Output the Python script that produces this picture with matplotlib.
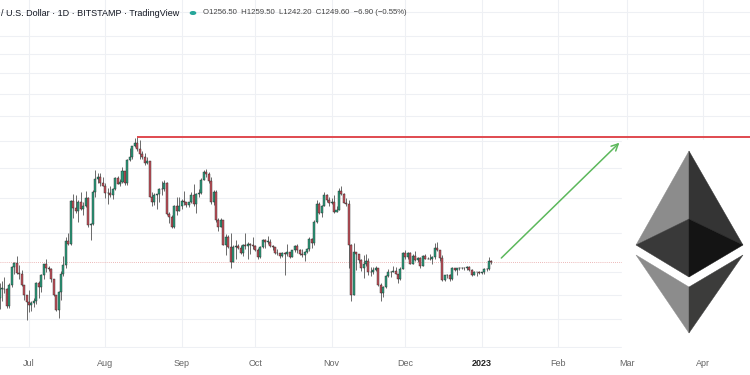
import matplotlib
matplotlib.use("Agg")
import matplotlib.pyplot as plt
import matplotlib.dates as mdates
import matplotlib.patches as mpatches
import numpy as np
import pandas as pd

plt.rcParams["font.family"] = ["Liberation Sans", "DejaVu Sans"]

# ---------------------------------------------------------------------------
# Data: ETH/USD daily candles, 2022-06-19 .. 2023-01-05
# ---------------------------------------------------------------------------
first_open = 1086

close_jun = [1127, 1127, 1125, 1052, 1145, 1225, 1243, 1199, 1193, 1143, 1098, 1069]
high_jun = [1150, 1160, 1180, 1130, 1150, 1232, 1250, 1280, 1235, 1210, 1145, 1100]
low_jun = [1040, 1075, 1110, 1045, 1046, 1135, 1192, 1195, 1170, 1140, 1080, 998]

close_jul = [1059, 1067, 1075, 1150, 1134, 1187, 1238, 1219, 1218, 1168, 1098, 1039,
             1113, 1192, 1234, 1356, 1339, 1581, 1543, 1521, 1577, 1537, 1551, 1601,
             1441, 1450, 1637, 1726, 1738, 1696, 1680]
high_jul = [1120, 1075, 1085, 1155, 1163, 1193, 1240, 1265, 1230, 1220, 1170, 1100,
            1118, 1208, 1280, 1375, 1400, 1590, 1625, 1620, 1590, 1640, 1580, 1645,
            1605, 1455, 1650, 1785, 1765, 1765, 1735]
low_jul = [1030, 1035, 1050, 1060, 1085, 1112, 1170, 1200, 1205, 1155, 1095, 1035,
           1006, 1078, 1185, 1220, 1335, 1335, 1480, 1510, 1460, 1530, 1500, 1545,
           1430, 1360, 1440, 1610, 1695, 1680, 1675]

close_aug = [1633, 1634, 1618, 1660, 1731, 1692, 1702, 1777, 1700, 1853, 1880, 1958,
             1982, 1937, 1902, 1877, 1834, 1849, 1611, 1576, 1620, 1626, 1662, 1658,
             1696, 1507, 1490, 1432, 1552, 1525, 1554]
high_aug = [1695, 1665, 1680, 1665, 1738, 1745, 1725, 1810, 1782, 1860, 1942, 1960,
            2020, 2030, 2010, 1925, 1905, 1880, 1850, 1640, 1635, 1630, 1667, 1710,
            1720, 1705, 1520, 1500, 1560, 1605, 1610]
low_aug = [1600, 1565, 1610, 1595, 1655, 1690, 1675, 1700, 1683, 1685, 1850, 1860,
           1950, 1925, 1865, 1860, 1820, 1830, 1605, 1555, 1560, 1533, 1575, 1620,
           1645, 1500, 1455, 1428, 1425, 1500, 1525]

close_sep = [1586, 1577, 1556, 1577, 1618, 1562, 1630, 1636, 1720, 1775, 1761, 1714,
             1575, 1637, 1472, 1432, 1471, 1336, 1378, 1325, 1252, 1327, 1328, 1318,
             1295, 1336, 1330, 1338, 1336, 1328]
high_sep = [1595, 1645, 1580, 1580, 1640, 1690, 1635, 1660, 1730, 1785, 1790, 1770,
            1735, 1650, 1650, 1485, 1485, 1472, 1395, 1390, 1400, 1335, 1360, 1340,
            1335, 1340, 1400, 1350, 1345, 1375]
low_sep = [1535, 1560, 1545, 1546, 1570, 1555, 1510, 1605, 1630, 1715, 1735, 1700,
           1565, 1560, 1460, 1410, 1430, 1333, 1284, 1320, 1220, 1250, 1265, 1315,
           1290, 1280, 1316, 1265, 1290, 1315]

close_oct = [1311, 1276, 1324, 1362, 1352, 1352, 1331, 1322, 1294, 1292, 1280, 1295,
             1289, 1297, 1275, 1307, 1332, 1311, 1287, 1283, 1300, 1315, 1364, 1345,
             1460, 1566, 1514, 1555, 1618, 1590, 1573]
high_oct = [1333, 1318, 1330, 1365, 1364, 1380, 1365, 1335, 1326, 1313, 1292, 1300,
            1300, 1340, 1299, 1310, 1335, 1340, 1313, 1315, 1304, 1317, 1375, 1370,
            1470, 1590, 1580, 1560, 1640, 1625, 1605]
low_oct = [1305, 1265, 1270, 1318, 1321, 1341, 1323, 1310, 1290, 1282, 1270, 1275,
           1190, 1280, 1270, 1273, 1300, 1295, 1283, 1272, 1255, 1292, 1305, 1320,
           1335, 1455, 1506, 1490, 1550, 1580, 1550]

close_nov = [1579, 1519, 1531, 1646, 1627, 1572, 1568, 1334, 1100, 1299, 1287, 1257,
             1222, 1241, 1253, 1201, 1202, 1212, 1219, 1141, 1109, 1136, 1184, 1204,
             1202, 1206, 1195, 1170, 1217, 1296]
high_nov = [1600, 1620, 1550, 1668, 1675, 1635, 1600, 1588, 1340, 1345, 1300, 1290,
            1265, 1286, 1290, 1270, 1225, 1225, 1230, 1222, 1150, 1138, 1190, 1215,
            1205, 1230, 1224, 1195, 1225, 1300]
low_nov = [1565, 1510, 1515, 1530, 1622, 1570, 1550, 1220, 1073, 1100, 1210, 1245,
           1205, 1173, 1230, 1190, 1184, 1195, 1205, 1138, 1075, 1090, 1130, 1180,
           1178, 1200, 1192, 1154, 1165, 1215]

close_dec = [1276, 1294, 1242, 1280, 1259, 1270, 1232, 1281, 1265, 1266, 1263, 1275,
             1320, 1308, 1267, 1167, 1186, 1188, 1168, 1219, 1212, 1219, 1219, 1221,
             1219, 1227, 1212, 1190, 1201, 1200, 1196]
high_dec = [1310, 1298, 1300, 1287, 1303, 1275, 1272, 1285, 1287, 1276, 1290, 1280,
            1345, 1350, 1310, 1285, 1190, 1195, 1195, 1225, 1220, 1220, 1225, 1225,
            1225, 1228, 1230, 1215, 1205, 1202, 1205]
low_dec = [1265, 1262, 1240, 1239, 1255, 1248, 1220, 1228, 1262, 1262, 1258, 1240,
           1265, 1305, 1255, 1160, 1162, 1175, 1160, 1165, 1205, 1190, 1212, 1215,
           1210, 1213, 1205, 1185, 1188, 1183, 1193]

close_jan = [1200, 1215, 1214, 1256.5, 1249.6]
high_jan = [1202, 1220, 1220, 1272, 1259.5]
low_jan = [1192, 1193, 1205, 1210, 1242.2]

closes = np.array(close_jun + close_jul + close_aug + close_sep + close_oct
                  + close_nov + close_dec + close_jan, dtype=float)
highs = np.array(high_jun + high_jul + high_aug + high_sep + high_oct
                 + high_nov + high_dec + high_jan, dtype=float)
lows = np.array(low_jun + low_jul + low_aug + low_sep + low_oct
                + low_nov + low_dec + low_jan, dtype=float)
opens = np.concatenate([[first_open], closes[:-1]])
dates = pd.date_range("2022-06-19", periods=len(closes), freq="D")

month_ticks = pd.date_range("2022-07-01", "2023-04-01", freq="MS")
month_labels = ["Jul", "Aug", "Sep", "Oct", "Nov", "Dec", "2023", "Feb", "Mar", "Apr"]
price_grid = [900, 1000, 1100, 1200, 1400, 1600, 1800, 2000, 2200, 2400, 2600, 2800, 3000, 3300]

resistance_from = pd.Timestamp("2022-08-14")
arrow_start = (pd.Timestamp("2023-01-09"), 1269)
arrow_end = (pd.Timestamp("2023-02-26"), 1985)

header_title = "/ U.S. Dollar \u00b7 1D \u00b7 BITSTAMP \u00b7 TradingView"
header_ohlc = "O1256.50  H1259.50  L1242.20  C1249.60  \u22126.90 (\u22120.55%)"

UP = "#2a9d7c"
DOWN = "#c4505a"
EDGE = "#262626"
WICK = "#6a6a6a"
GRID = "#eef0f4"

# ---------------------------------------------------------------------------
W, H = 750, 375
fig = plt.figure(figsize=(7.5, 3.75), dpi=100)
fig.patch.set_facecolor("white")
ax = fig.add_axes([0, 27 / H, 1, 348 / H])
ax.set_facecolor("white")
for s in ax.spines.values():
    s.set_visible(False)

x = mdates.date2num(dates)
up = closes >= opens
colors = np.where(up, UP, DOWN)
ax.vlines(x, lows, highs, color=WICK, lw=0.7, zorder=3)
body_lo = np.minimum(opens, closes)
body_h = np.maximum(np.abs(closes - opens), 1.5)
ax.bar(x, body_h, bottom=body_lo, width=0.82, color=colors, edgecolor=EDGE,
       linewidth=0.3, zorder=4)

ax.set_yscale("log")
ax.set_ylim(895, 3454)
jul1 = mdates.date2num(pd.Timestamp("2022-07-01"))
ax.set_xlim(jul1 - 11.8, jul1 + 293.1)

# grid
ax.set_yticks(price_grid)
ax.yaxis.set_minor_locator(matplotlib.ticker.NullLocator())
ax.set_yticklabels([])
ax.set_xticks(mdates.date2num(month_ticks))
ax.set_xticklabels(month_labels)
ax.grid(True, color=GRID, lw=0.8, zorder=0)
ax.tick_params(axis="both", length=0)
ax.tick_params(axis="x", pad=8, labelsize=6.5, labelcolor="#666666")
for lab in ax.get_xticklabels():
    if lab.get_text() == "2023":
        lab.set_fontweight("bold")
        lab.set_color("#222222")

# last price dotted line
ax.axhline(closes[-1], color="#e6a0a0", lw=0.6, ls=(0, (1, 1.5)), zorder=2)

# resistance at the August high
ax.hlines(highs.max(), mdates.date2num(resistance_from), ax.get_xlim()[1],
          color="#e04a4f", lw=1.4, zorder=6)

# projection arrow
ax.annotate("", xy=(mdates.date2num(arrow_end[0]), arrow_end[1]),
            xytext=(mdates.date2num(arrow_start[0]), arrow_start[1]),
            arrowprops=dict(arrowstyle="->", color="#5cb85c", lw=1.1,
                            mutation_scale=12, shrinkA=0, shrinkB=0), zorder=6)

# header
fig.text(1 / W, 1 - 13 / H, header_title, fontsize=6.5, color="#131722",
         ha="left", va="center")
fig.add_artist(mpatches.Circle((193 / W, 1 - 13 / H), 2.6 / W, color="#26a69a",
                               transform=fig.transFigure))
fig.text(203 / W, 1 - 13 / H, header_ohlc, fontsize=5.6, color="#444444",
         ha="left", va="center")


# Ethereum logo pasted on a white block (pixel coords from top-left)
def fig_pt(px, py):
    return (px / W, 1 - py / H)


fig.add_artist(mpatches.Rectangle(fig_pt(622, 348), 128 / W, 208 / H,
                                  transform=fig.transFigure, color="white", zorder=5))
logo_faces = [
    ([(689, 151), (636, 245), (689, 219)], "#8c8c8c"),
    ([(689, 151), (743, 245), (689, 219)], "#343434"),
    ([(636, 245), (689, 219), (689, 277)], "#393939"),
    ([(743, 245), (689, 219), (689, 277)], "#141414"),
    ([(636, 255), (689, 287), (689, 333)], "#8c8c8c"),
    ([(743, 255), (689, 287), (689, 333)], "#3c3c3b"),
]
for pts, col in logo_faces:
    fig.add_artist(mpatches.Polygon([fig_pt(*p) for p in pts], closed=True,
                                    transform=fig.transFigure, facecolor=col,
                                    edgecolor=col, lw=0.3, zorder=6))

fig.savefig("out.png", dpi=100, facecolor="white")
